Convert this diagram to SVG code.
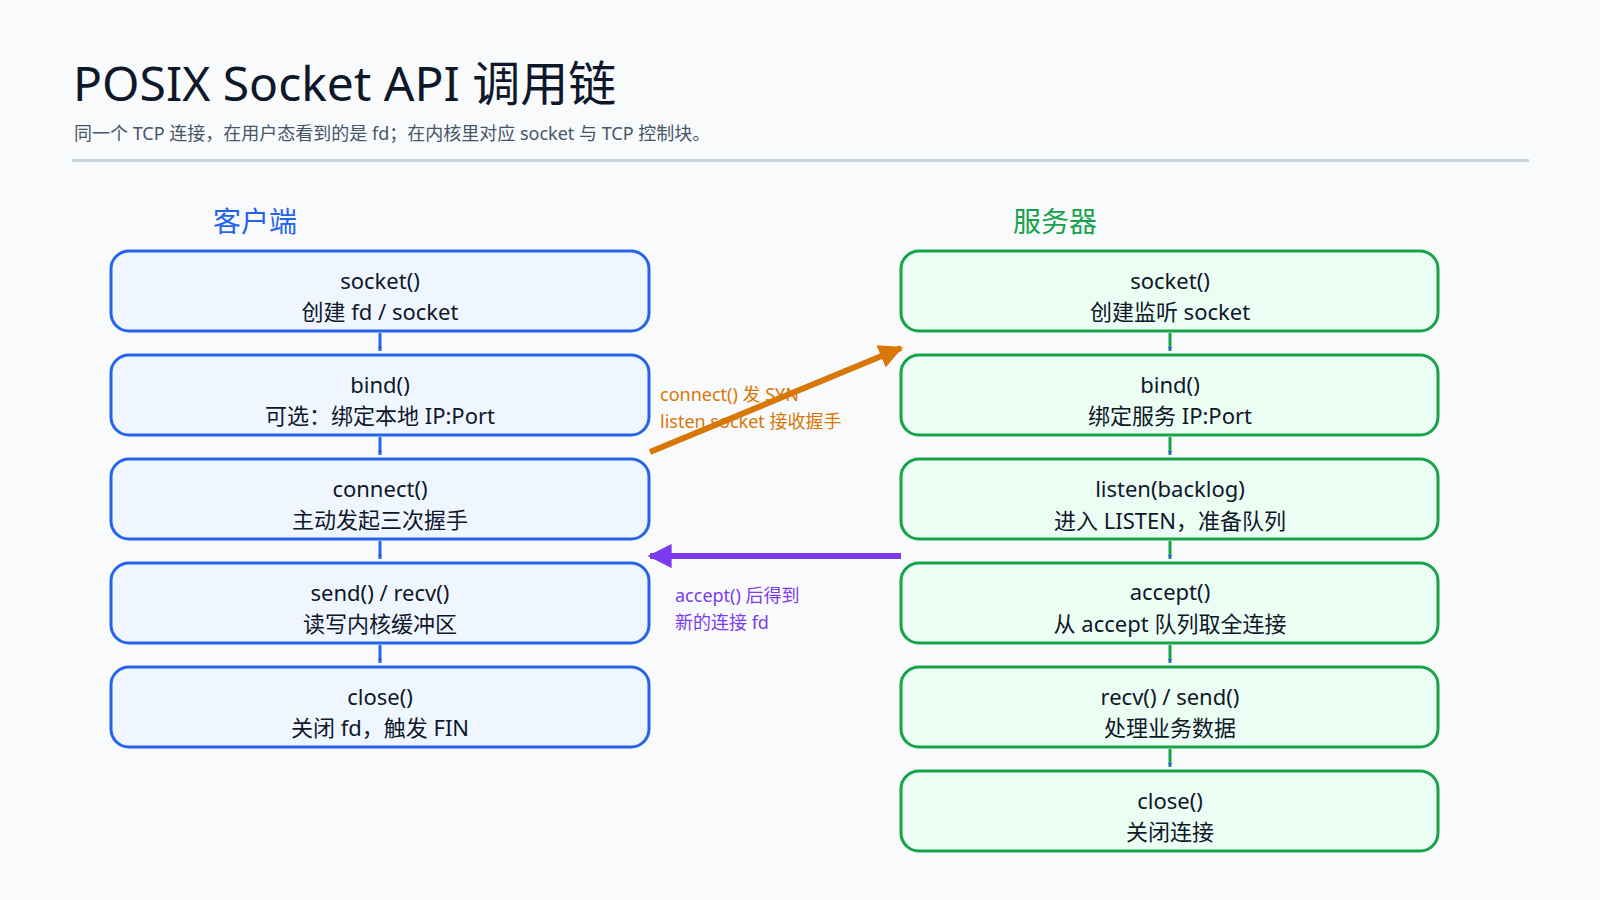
<svg xmlns="http://www.w3.org/2000/svg" width="1600" height="900" viewBox="0 0 1600 900">
<style>
text{font-family:"Noto Sans","Noto Sans CJK SC",sans-serif}
.t{font-size:22px;fill:#0f172a;text-anchor:middle}
.c rect{fill:#eff6ff;stroke:#2563eb;stroke-width:3}
.s rect{fill:#ecfdf3;stroke:#16a34a;stroke-width:3}
</style>
<defs>
<marker id="ab" viewBox="0 0 10 10" refX="10" refY="5" markerWidth="4" markerHeight="4" orient="auto" markerUnits="userSpaceOnUse"><path d="M0,0L10,5L0,10z" fill="#2563eb"/></marker>
<marker id="ag" viewBox="0 0 10 10" refX="10" refY="5" markerWidth="4" markerHeight="4" orient="auto"><path d="M0,0L10,5L0,10z" fill="#16a34a"/></marker>
<marker id="ao" viewBox="0 0 10 10" refX="9" refY="5" markerWidth="4" markerHeight="4" orient="auto"><path d="M0,0L10,5L0,10z" fill="#d97706"/></marker>
<marker id="ap" viewBox="0 0 10 10" refX="9" refY="5" markerWidth="4" markerHeight="4" orient="auto"><path d="M0,0L10,5L0,10z" fill="#7c3aed"/></marker>
</defs>
<rect width="1600" height="900" fill="#f8fafc"/>
<text x="73" y="101" font-size="48" fill="#0f172a">POSIX Socket API 调用链</text>
<text x="74" y="140" font-size="18" fill="#475569">同一个 TCP 连接，在用户态看到的是 fd；在内核里对应 socket 与 TCP 控制块。</text>
<rect x="72" y="159" width="1457" height="3" fill="#cbd5e1"/>
<text x="255" y="232" font-size="28" fill="#2563eb" text-anchor="middle">客户端</text>
<text x="1055" y="232" font-size="28" fill="#16a34a" text-anchor="middle">服务器</text>

<g id="c1" class="c"><rect x="111" y="251" width="538" height="80" rx="18"/><text class="t" x="380" y="289">socket()</text><text class="t" x="380" y="320">创建 fd / socket</text></g>
<g id="c2" class="c"><rect x="111" y="355" width="538" height="80" rx="18"/><text class="t" x="380" y="393">bind()</text><text class="t" x="380" y="424">可选：绑定本地 IP:Port</text></g>
<g id="c3" class="c"><rect x="111" y="459" width="538" height="80" rx="18"/><text class="t" x="380" y="497">connect()</text><text class="t" x="380" y="528">主动发起三次握手</text></g>
<g id="c4" class="c"><rect x="111" y="563" width="538" height="80" rx="18"/><text class="t" x="380" y="601">send() / recv()</text><text class="t" x="380" y="632">读写内核缓冲区</text></g>
<g id="c5" class="c"><rect x="111" y="667" width="538" height="80" rx="18"/><text class="t" x="380" y="705">close()</text><text class="t" x="380" y="736">关闭 fd，触发 FIN</text></g>

<g id="s1" class="s"><rect x="901" y="251" width="537" height="80" rx="18"/><text class="t" x="1170" y="289">socket()</text><text class="t" x="1170" y="320">创建监听 socket</text></g>
<g id="s2" class="s"><rect x="901" y="355" width="537" height="80" rx="18"/><text class="t" x="1170" y="393">bind()</text><text class="t" x="1170" y="424">绑定服务 IP:Port</text></g>
<g id="s3" class="s"><rect x="901" y="459" width="537" height="80" rx="18"/><text class="t" x="1170" y="497">listen(backlog)</text><text class="t" x="1170" y="529">进入 LISTEN，准备队列</text></g>
<g id="s4" class="s"><rect x="901" y="563" width="537" height="80" rx="18"/><text class="t" x="1170" y="600">accept()</text><text class="t" x="1170" y="632">从 accept 队列取全连接</text></g>
<g id="s5" class="s"><rect x="901" y="667" width="537" height="80" rx="18"/><text class="t" x="1170" y="705">recv() / send()</text><text class="t" x="1170" y="736">处理业务数据</text></g>
<g id="s6" class="s"><rect x="901" y="771" width="537" height="80" rx="18"/><text class="t" x="1170" y="809">close()</text><text class="t" x="1170" y="840">关闭连接</text></g>

<g id="connectors" fill="none">
<g stroke="#2563eb" stroke-width="3" marker-end="url(#ab)">
<line x1="380" y1="333" x2="380" y2="351"/><line x1="380" y1="437" x2="380" y2="455"/><line x1="380" y1="541" x2="380" y2="559"/><line x1="380" y1="645" x2="380" y2="663"/>
</g>
<g stroke="#16a34a" stroke-width="3" marker-end="url(#ab)">
<line x1="1170" y1="333" x2="1170" y2="351"/><line x1="1170" y1="437" x2="1170" y2="455"/><line x1="1170" y1="541" x2="1170" y2="559"/><line x1="1170" y1="645" x2="1170" y2="663"/><line x1="1170" y1="749" x2="1170" y2="767"/>
</g>
<line x1="650" y1="452" x2="901" y2="348" stroke="#d97706" stroke-width="6" marker-end="url(#ao)"/>
<line x1="901" y1="556" x2="650" y2="556" stroke="#7c3aed" stroke-width="6" marker-end="url(#ap)"/>
</g>
<text x="660" y="401" font-size="18" fill="#d97706">connect() 发 SYN</text>
<text x="660" y="428" font-size="18" fill="#d97706">listen socket 接收握手</text>
<text x="675" y="602" font-size="18" fill="#7c3aed">accept() 后得到</text>
<text x="675" y="629" font-size="18" fill="#7c3aed">新的连接 fd</text>
</svg>
